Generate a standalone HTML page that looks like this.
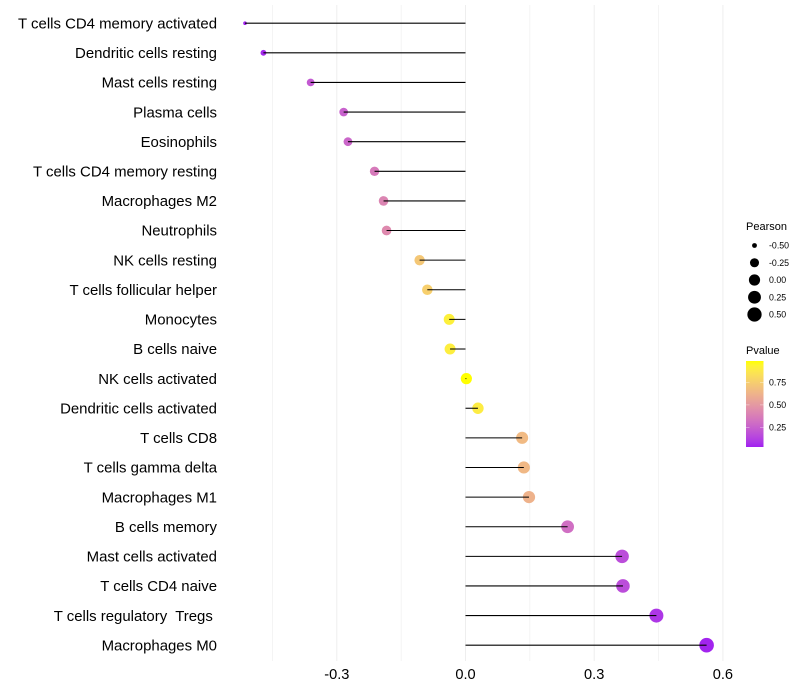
<!DOCTYPE html>
<html>
<head>
<meta charset="utf-8">
<title>Immune cell correlation lollipop chart</title>
<style>
html,body{margin:0;padding:0;background:#fff;}
svg{display:block;font-family:"Liberation Sans",Arial,sans-serif;}
</style>
</head>
<body>
<svg id="chart" xmlns="http://www.w3.org/2000/svg" width="800" height="700" viewBox="0 0 800 700">
<defs><linearGradient id="pgrad" x1="0" y1="1" x2="0" y2="0"></linearGradient></defs>
<rect width="800" height="700" fill="#fff"/>
<g id="grid"></g>
<g id="segments"></g>
<g id="ylabels"></g>
<g id="xlabels"></g>
<g id="size-legend"></g>
<g id="color-legend"></g>
</svg>
<script>
const categories = ["T cells CD4 memory activated","Dendritic cells resting","Mast cells resting","Plasma cells","Eosinophils","T cells CD4 memory resting","Macrophages M2","Neutrophils","NK cells resting","T cells follicular helper","Monocytes","B cells naive","NK cells activated","Dendritic cells activated","T cells CD8","T cells gamma delta","Macrophages M1","B cells memory","Mast cells activated","T cells CD4 naive","T cells regulatory  Tregs ","Macrophages M0"];
const pearson = [-0.514,-0.471,-0.361,-0.284,-0.274,-0.212,-0.191,-0.184,-0.107,-0.089,-0.038,-0.036,0.002,0.029,0.132,0.136,0.148,0.238,0.365,0.367,0.445,0.562];
const pvalues = [0.04,0.05,0.22,0.25,0.27,0.36,0.41,0.43,0.72,0.76,0.92,0.91,0.99,0.9,0.66,0.65,0.62,0.31,0.17,0.17,0.09,0.04];
const xTickValues = [-0.3,0,0.3,0.6];
const xTickLabels = ["-0.3","0.0","0.3","0.6"];
const xMinorValues = [-0.45,-0.15,0.15,0.45];
const sizeLegendValues = [-0.5,-0.25,0,0.25,0.5];
const sizeLegendLabels = ["-0.50","-0.25","0.00","0.25","0.50"];
const colorLegendValues = [0.75,0.5,0.25];
const colorLegendLabels = ["0.75","0.50","0.25"];

const NS = "http://www.w3.org/2000/svg";
function mk(tag, parent, attrs){
  const e = document.createElementNS(NS, tag);
  for (const k in attrs) e.setAttribute(k, attrs[k]);
  parent.appendChild(e);
  return e;
}
const xScale = v => 465.5 + v * 429;
const yScale = i => 23.2 + i * 29.619;
const sizeMin = -0.514, sizeMax = 0.562;
const rScale = v => 1.8 + 5.5 * Math.sqrt(Math.max(0, (v - sizeMin) / (sizeMax - sizeMin)));

// Lab interpolation between purple and yellow, as ggplot's scale_colour_gradient does
function rgb2lab(c){
  let [r,g,b] = c.map(v => { v/=255; return v>0.04045?Math.pow((v+0.055)/1.055,2.4):v/12.92; });
  let x=(0.4124*r+0.3576*g+0.1805*b)/0.95047, y=0.2126*r+0.7152*g+0.0722*b, z=(0.0193*r+0.1192*g+0.9505*b)/1.08883;
  const f=t=>t>0.008856?Math.cbrt(t):7.787*t+16/116;
  return [116*f(y)-16,500*(f(x)-f(y)),200*(f(y)-f(z))];
}
function lab2rgb(l){
  const fy=(l[0]+16)/116, fx=l[1]/500+fy, fz=fy-l[2]/200;
  const g=t=>t*t*t>0.008856?t*t*t:(t-16/116)/7.787;
  const x=g(fx)*0.95047,y=g(fy),z=g(fz)*1.08883;
  const rgb=[3.2406*x-1.5372*y-0.4986*z,-0.9689*x+1.8758*y+0.0415*z,0.0557*x-0.204*y+1.057*z];
  return rgb.map(v=>{v=Math.max(0,Math.min(1,v));v=v>0.0031308?1.055*Math.pow(v,1/2.4)-0.055:12.92*v;return Math.round(v*255);});
}
const labLow = rgb2lab([160,32,240]), labHigh = rgb2lab([255,255,0]);
const pMin = 0.03, pMax = 0.99;
function colorScale(p){
  const t = Math.max(0, Math.min(1, (p - pMin) / (pMax - pMin)));
  const c = lab2rgb(labLow.map((a,i)=>a+(labHigh[i]-a)*t));
  return "rgb("+c.join(",")+")";
}

const grid = document.getElementById("grid");
xMinorValues.concat(xTickValues).forEach(v => {
  const l = mk("line", grid, {x1:xScale(v),x2:xScale(v),y1:5,y2:661,stroke:"#eeeeee","stroke-width":xTickValues.includes(v)?1:0.6});
  
  
});

const seg = document.getElementById("segments");
categories.forEach((c,i) => {
  const dot = mk("circle", seg, {cx:xScale(pearson[i]),cy:yScale(i),r:rScale(pearson[i]),fill:colorScale(pvalues[i])});
  
  
});
categories.forEach((c,i) => {
  const line = mk("line", seg, {x1:xScale(0),x2:xScale(pearson[i]),y1:yScale(i),y2:yScale(i),stroke:"#000","stroke-width":1.05});
  
  
});

const yl = document.getElementById("ylabels");
categories.forEach((c,i) => {
  const t = mk("text", yl, {x:217,y:yScale(i)+5.2,"text-anchor":"end","font-size":14.95,fill:"#000"});
  t.setAttribute('xml:space', 'preserve');
  t.style.whiteSpace = "pre";
  t.textContent = c;
  
  
});

const xl = document.getElementById("xlabels");
xTickValues.forEach((v,i) => {
  const t = mk("text", xl, {x:xScale(v),y:679,"text-anchor":"middle","font-size":14.6,fill:"#000"});
  t.textContent = xTickLabels[i];
  
  
});

const sl = document.getElementById("size-legend");
const st = mk("text", sl, {x:746,y:230,"font-size":11,fill:"#000"});
st.textContent = "Pearson";


sizeLegendValues.forEach((v,i) => {
  const y = 245.5 + i * 17.25;
  const d = mk("circle", sl, {cx:754.5,cy:y,r:rScale(v),fill:"#000"});
  
  
  const t = mk("text", sl, {x:769,y:y+3,"font-size":8.8,fill:"#000"});
  t.textContent = sizeLegendLabels[i];
  
  
});

const grad = document.getElementById("pgrad");
for (let k = 0; k <= 20; k++) {
  const p = pMin + (pMax - pMin) * k / 20;
  mk("stop", grad, {offset:(k*5)+"%","stop-color":colorScale(p)});
}
const cl = document.getElementById("color-legend");
const ct = mk("text", cl, {x:746,y:354,"font-size":11,fill:"#000"});
ct.textContent = "Pvalue";


const bar = mk("rect", cl, {x:746,y:361,width:17.5,height:86,fill:"url(#pgrad)"});


const pY = p => 447 - (p - pMin) / (pMax - pMin) * 86;
colorLegendValues.forEach((v,i) => {
  const y = pY(v);
  [[746,749.5],[760,763.5]].forEach(s => {
    const tk = mk("line", cl, {x1:s[0],x2:s[1],y1:y,y2:y,stroke:"#fff","stroke-opacity":0.6,"stroke-width":0.6});
    
    
  });
  const t = mk("text", cl, {x:769,y:y+3,"font-size":8.8,fill:"#000"});
  t.textContent = colorLegendLabels[i];
  
  
});
</script>
</body>
</html>
